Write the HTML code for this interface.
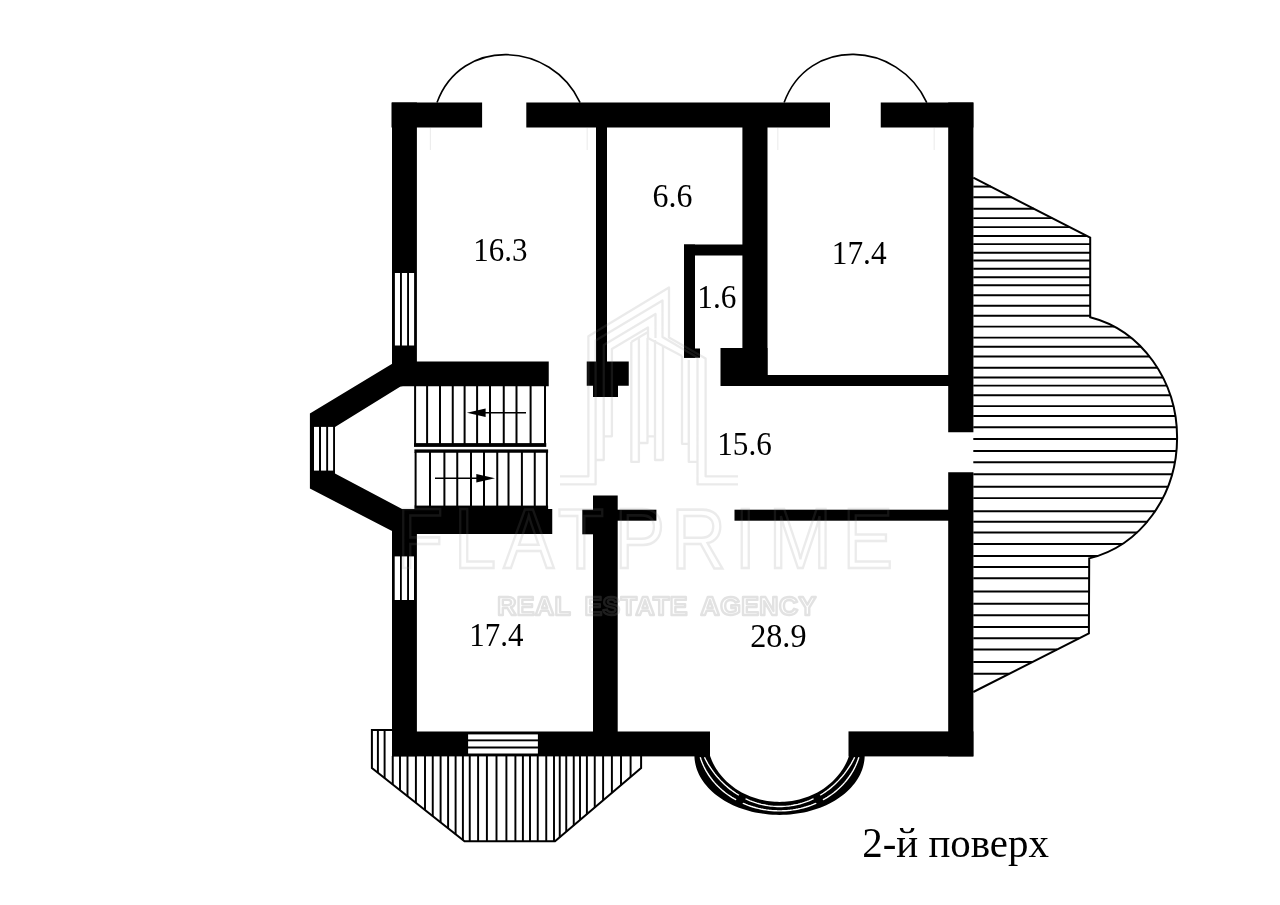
<!DOCTYPE html>
<html lang="uk">
<head>
<meta charset="utf-8">
<title>2-й поверх</title>
<style>
html,body{margin:0;padding:0;background:#fff;overflow:hidden}
svg{display:block;will-change:transform}
</style>
</head>
<body>
<svg width="1280" height="905" viewBox="0 0 1280 905">
<rect width="1280" height="905" fill="#fff"/>
<g id="terrace">
<line x1="973.30" y1="186.60" x2="991.00" y2="186.60" stroke="#000" stroke-width="1.95" stroke-linecap="butt"/>
<line x1="973.30" y1="197.20" x2="1011.62" y2="197.20" stroke="#000" stroke-width="1.95" stroke-linecap="butt"/>
<line x1="973.30" y1="208.70" x2="1033.98" y2="208.70" stroke="#000" stroke-width="1.95" stroke-linecap="butt"/>
<line x1="973.30" y1="218.10" x2="1052.27" y2="218.10" stroke="#000" stroke-width="1.95" stroke-linecap="butt"/>
<line x1="973.30" y1="227.10" x2="1069.77" y2="227.10" stroke="#000" stroke-width="1.95" stroke-linecap="butt"/>
<line x1="973.30" y1="235.90" x2="1086.89" y2="235.90" stroke="#000" stroke-width="1.95" stroke-linecap="butt"/>
<line x1="973.30" y1="244.10" x2="1090.00" y2="244.10" stroke="#000" stroke-width="1.95" stroke-linecap="butt"/>
<line x1="973.30" y1="252.70" x2="1090.00" y2="252.70" stroke="#000" stroke-width="1.95" stroke-linecap="butt"/>
<line x1="973.30" y1="260.40" x2="1090.00" y2="260.40" stroke="#000" stroke-width="1.95" stroke-linecap="butt"/>
<line x1="973.30" y1="268.70" x2="1090.00" y2="268.70" stroke="#000" stroke-width="1.95" stroke-linecap="butt"/>
<line x1="973.30" y1="277.20" x2="1090.00" y2="277.20" stroke="#000" stroke-width="1.95" stroke-linecap="butt"/>
<line x1="973.30" y1="285.30" x2="1090.00" y2="285.30" stroke="#000" stroke-width="1.95" stroke-linecap="butt"/>
<line x1="973.30" y1="295.30" x2="1090.00" y2="295.30" stroke="#000" stroke-width="1.95" stroke-linecap="butt"/>
<line x1="973.30" y1="305.80" x2="1090.00" y2="305.80" stroke="#000" stroke-width="1.95" stroke-linecap="butt"/>
<line x1="973.30" y1="315.80" x2="1090.00" y2="315.80" stroke="#000" stroke-width="1.95" stroke-linecap="butt"/>
<line x1="973.30" y1="326.60" x2="1114.20" y2="326.60" stroke="#000" stroke-width="1.95" stroke-linecap="butt"/>
<line x1="973.30" y1="337.60" x2="1130.87" y2="337.60" stroke="#000" stroke-width="1.95" stroke-linecap="butt"/>
<line x1="973.30" y1="346.80" x2="1141.10" y2="346.80" stroke="#000" stroke-width="1.95" stroke-linecap="butt"/>
<line x1="973.30" y1="356.50" x2="1149.67" y2="356.50" stroke="#000" stroke-width="1.95" stroke-linecap="butt"/>
<line x1="973.30" y1="367.80" x2="1157.63" y2="367.80" stroke="#000" stroke-width="1.95" stroke-linecap="butt"/>
<line x1="973.30" y1="377.40" x2="1163.05" y2="377.40" stroke="#000" stroke-width="1.95" stroke-linecap="butt"/>
<line x1="973.30" y1="385.60" x2="1166.86" y2="385.60" stroke="#000" stroke-width="1.95" stroke-linecap="butt"/>
<line x1="973.30" y1="395.25" x2="1170.50" y2="395.25" stroke="#000" stroke-width="1.95" stroke-linecap="butt"/>
<line x1="973.30" y1="406.10" x2="1173.61" y2="406.10" stroke="#000" stroke-width="1.95" stroke-linecap="butt"/>
<line x1="973.30" y1="416.00" x2="1175.60" y2="416.00" stroke="#000" stroke-width="1.95" stroke-linecap="butt"/>
<line x1="973.30" y1="427.25" x2="1176.95" y2="427.25" stroke="#000" stroke-width="1.95" stroke-linecap="butt"/>
<line x1="973.30" y1="439.00" x2="1177.35" y2="439.00" stroke="#000" stroke-width="1.95" stroke-linecap="butt"/>
<line x1="973.30" y1="451.00" x2="1176.72" y2="451.00" stroke="#000" stroke-width="1.95" stroke-linecap="butt"/>
<line x1="973.30" y1="462.25" x2="1175.14" y2="462.25" stroke="#000" stroke-width="1.95" stroke-linecap="butt"/>
<line x1="973.30" y1="474.20" x2="1172.38" y2="474.20" stroke="#000" stroke-width="1.95" stroke-linecap="butt"/>
<line x1="973.30" y1="486.80" x2="1168.17" y2="486.80" stroke="#000" stroke-width="1.95" stroke-linecap="butt"/>
<line x1="973.30" y1="498.10" x2="1163.10" y2="498.10" stroke="#000" stroke-width="1.95" stroke-linecap="butt"/>
<line x1="973.30" y1="511.25" x2="1155.40" y2="511.25" stroke="#000" stroke-width="1.95" stroke-linecap="butt"/>
<line x1="973.30" y1="521.70" x2="1147.55" y2="521.70" stroke="#000" stroke-width="1.95" stroke-linecap="butt"/>
<line x1="973.30" y1="532.50" x2="1137.27" y2="532.50" stroke="#000" stroke-width="1.95" stroke-linecap="butt"/>
<line x1="973.30" y1="544.00" x2="1122.59" y2="544.00" stroke="#000" stroke-width="1.95" stroke-linecap="butt"/>
<line x1="973.30" y1="556.00" x2="1098.10" y2="556.00" stroke="#000" stroke-width="1.95" stroke-linecap="butt"/>
<line x1="973.30" y1="567.00" x2="1089.00" y2="567.00" stroke="#000" stroke-width="1.95" stroke-linecap="butt"/>
<line x1="973.30" y1="578.20" x2="1089.00" y2="578.20" stroke="#000" stroke-width="1.95" stroke-linecap="butt"/>
<line x1="973.30" y1="591.50" x2="1089.00" y2="591.50" stroke="#000" stroke-width="1.95" stroke-linecap="butt"/>
<line x1="973.30" y1="603.75" x2="1089.00" y2="603.75" stroke="#000" stroke-width="1.95" stroke-linecap="butt"/>
<line x1="973.30" y1="615.25" x2="1089.00" y2="615.25" stroke="#000" stroke-width="1.95" stroke-linecap="butt"/>
<line x1="973.30" y1="627.00" x2="1089.00" y2="627.00" stroke="#000" stroke-width="1.95" stroke-linecap="butt"/>
<line x1="973.30" y1="638.25" x2="1079.15" y2="638.25" stroke="#000" stroke-width="1.95" stroke-linecap="butt"/>
<line x1="973.30" y1="649.50" x2="1057.00" y2="649.50" stroke="#000" stroke-width="1.95" stroke-linecap="butt"/>
<line x1="973.30" y1="662.00" x2="1032.38" y2="662.00" stroke="#000" stroke-width="1.95" stroke-linecap="butt"/>
<line x1="973.30" y1="673.75" x2="1009.24" y2="673.75" stroke="#000" stroke-width="1.95" stroke-linecap="butt"/>
<path d="M973.3 177.6 L1090.2 237.6 L1090.2 317.2 A112.4 123.7 0 0 1 1089.2 558.4 L1088.9 633.3 L973.3 692" fill="none" stroke="#000" stroke-width="2" stroke-linejoin="miter"/>
</g>
<g id="balcony">
<line x1="377.90" y1="730.00" x2="377.90" y2="772.84" stroke="#000" stroke-width="1.95" stroke-linecap="butt"/>
<line x1="384.60" y1="730.00" x2="384.60" y2="778.14" stroke="#000" stroke-width="1.95" stroke-linecap="butt"/>
<line x1="392.75" y1="756.00" x2="392.75" y2="784.58" stroke="#000" stroke-width="1.95" stroke-linecap="butt"/>
<line x1="400.00" y1="756.00" x2="400.00" y2="790.31" stroke="#000" stroke-width="1.95" stroke-linecap="butt"/>
<line x1="407.50" y1="756.00" x2="407.50" y2="796.24" stroke="#000" stroke-width="1.95" stroke-linecap="butt"/>
<line x1="415.90" y1="756.00" x2="415.90" y2="802.88" stroke="#000" stroke-width="1.95" stroke-linecap="butt"/>
<line x1="425.00" y1="756.00" x2="425.00" y2="810.08" stroke="#000" stroke-width="1.95" stroke-linecap="butt"/>
<line x1="432.75" y1="756.00" x2="432.75" y2="816.20" stroke="#000" stroke-width="1.95" stroke-linecap="butt"/>
<line x1="440.60" y1="756.00" x2="440.60" y2="822.41" stroke="#000" stroke-width="1.95" stroke-linecap="butt"/>
<line x1="448.10" y1="756.00" x2="448.10" y2="828.34" stroke="#000" stroke-width="1.95" stroke-linecap="butt"/>
<line x1="455.60" y1="756.00" x2="455.60" y2="834.26" stroke="#000" stroke-width="1.95" stroke-linecap="butt"/>
<line x1="462.90" y1="756.00" x2="462.90" y2="840.04" stroke="#000" stroke-width="1.95" stroke-linecap="butt"/>
<line x1="469.75" y1="756.00" x2="469.75" y2="841.30" stroke="#000" stroke-width="1.95" stroke-linecap="butt"/>
<line x1="478.10" y1="756.00" x2="478.10" y2="841.30" stroke="#000" stroke-width="1.95" stroke-linecap="butt"/>
<line x1="486.90" y1="756.00" x2="486.90" y2="841.30" stroke="#000" stroke-width="1.95" stroke-linecap="butt"/>
<line x1="496.50" y1="756.00" x2="496.50" y2="841.30" stroke="#000" stroke-width="1.95" stroke-linecap="butt"/>
<line x1="506.40" y1="756.00" x2="506.40" y2="841.30" stroke="#000" stroke-width="1.95" stroke-linecap="butt"/>
<line x1="515.40" y1="756.00" x2="515.40" y2="841.30" stroke="#000" stroke-width="1.95" stroke-linecap="butt"/>
<line x1="522.90" y1="756.00" x2="522.90" y2="841.30" stroke="#000" stroke-width="1.95" stroke-linecap="butt"/>
<line x1="530.00" y1="756.00" x2="530.00" y2="841.30" stroke="#000" stroke-width="1.95" stroke-linecap="butt"/>
<line x1="537.75" y1="756.00" x2="537.75" y2="841.30" stroke="#000" stroke-width="1.95" stroke-linecap="butt"/>
<line x1="546.25" y1="756.00" x2="546.25" y2="841.30" stroke="#000" stroke-width="1.95" stroke-linecap="butt"/>
<line x1="554.00" y1="756.00" x2="554.00" y2="841.30" stroke="#000" stroke-width="1.95" stroke-linecap="butt"/>
<line x1="559.75" y1="756.00" x2="559.75" y2="837.26" stroke="#000" stroke-width="1.95" stroke-linecap="butt"/>
<line x1="566.25" y1="756.00" x2="566.25" y2="831.74" stroke="#000" stroke-width="1.95" stroke-linecap="butt"/>
<line x1="573.75" y1="756.00" x2="573.75" y2="825.36" stroke="#000" stroke-width="1.95" stroke-linecap="butt"/>
<line x1="580.00" y1="756.00" x2="580.00" y2="820.05" stroke="#000" stroke-width="1.95" stroke-linecap="butt"/>
<line x1="586.90" y1="756.00" x2="586.90" y2="814.18" stroke="#000" stroke-width="1.95" stroke-linecap="butt"/>
<line x1="594.75" y1="756.00" x2="594.75" y2="807.51" stroke="#000" stroke-width="1.95" stroke-linecap="butt"/>
<line x1="603.10" y1="756.00" x2="603.10" y2="800.41" stroke="#000" stroke-width="1.95" stroke-linecap="butt"/>
<line x1="611.90" y1="756.00" x2="611.90" y2="792.93" stroke="#000" stroke-width="1.95" stroke-linecap="butt"/>
<line x1="621.00" y1="756.00" x2="621.00" y2="785.19" stroke="#000" stroke-width="1.95" stroke-linecap="butt"/>
<line x1="630.60" y1="756.00" x2="630.60" y2="777.03" stroke="#000" stroke-width="1.95" stroke-linecap="butt"/>
<path d="M392 730 L371.9 730 L371.9 768.1 L464.5 841.3 L555 841.3 L641.1 768.1 L641.1 756" fill="none" stroke="#000" stroke-width="2"/>
</g>
<line x1="430.40" y1="128.00" x2="430.40" y2="150.00" stroke="#000" stroke-opacity="0.07" stroke-width="1.2" stroke-linecap="butt"/>
<line x1="587.20" y1="128.00" x2="587.20" y2="150.00" stroke="#000" stroke-opacity="0.07" stroke-width="1.2" stroke-linecap="butt"/>
<line x1="777.80" y1="128.00" x2="777.80" y2="150.00" stroke="#000" stroke-opacity="0.07" stroke-width="1.2" stroke-linecap="butt"/>
<line x1="934.20" y1="128.00" x2="934.20" y2="150.00" stroke="#000" stroke-opacity="0.07" stroke-width="1.2" stroke-linecap="butt"/>
<g id="baywin">
<path d="M694.72 750.00 L694.49 752.47 L694.41 754.95 L694.47 757.42 L694.68 759.89 L695.04 762.36 L695.54 764.81 L696.18 767.24 L696.97 769.65 L697.90 772.04 L698.97 774.40 L700.17 776.73 L701.52 779.02 L702.99 781.27 L704.60 783.47 L706.34 785.62 L708.20 787.73 L710.18 789.77 L712.28 791.76 L714.50 793.68 L716.83 795.54 L719.27 797.33 L721.81 799.05 L724.45 800.69 L727.18 802.25 L730.01 803.73 L732.92 805.13 L735.90 806.44 L738.97 807.67 L742.10 808.80 L745.30 809.85 L748.55 810.80 L751.86 811.65 L755.22 812.41 L758.62 813.06 L762.05 813.62 L765.51 814.08 L769.00 814.44 L772.51 814.70 L776.03 814.85 L779.55 814.90 L783.07 814.85 L786.59 814.70 L790.10 814.44 L793.59 814.08 L797.05 813.62 L800.48 813.06 L803.88 812.41 L807.24 811.65 L810.55 810.80 L813.80 809.85 L817.00 808.80 L820.13 807.67 L823.20 806.44 L826.18 805.13 L829.09 803.73 L831.92 802.25 L834.65 800.69 L837.29 799.05 L839.83 797.33 L842.27 795.54 L844.60 793.68 L846.82 791.76 L848.92 789.77 L850.90 787.73 L852.76 785.62 L854.50 783.47 L856.11 781.27 L857.58 779.02 L858.93 776.73 L860.13 774.40 L861.20 772.04 L862.13 769.65 L862.92 767.24 L863.56 764.81 L864.06 762.36 L864.42 759.89 L864.63 757.42 L864.69 754.95 L864.61 752.47 L864.38 750.00 L850.69 750.00 L850.15 752.17 L849.53 754.32 L848.83 756.44 L848.04 758.55 L847.18 760.63 L846.24 762.69 L845.22 764.71 L844.12 766.70 L842.95 768.66 L841.70 770.58 L840.38 772.46 L838.98 774.29 L837.52 776.09 L835.99 777.84 L834.39 779.54 L832.73 781.19 L831.01 782.79 L829.23 784.34 L827.38 785.83 L825.48 787.26 L823.53 788.63 L821.53 789.95 L819.48 791.20 L817.38 792.39 L815.23 793.51 L813.05 794.57 L810.82 795.56 L808.56 796.48 L806.26 797.33 L803.93 798.12 L801.58 798.83 L799.20 799.46 L796.79 800.03 L794.37 800.52 L791.92 800.93 L789.47 801.27 L787.00 801.54 L784.52 801.73 L782.04 801.84 L779.55 801.88 L777.06 801.84 L774.58 801.73 L772.10 801.54 L769.63 801.27 L767.18 800.93 L764.73 800.52 L762.31 800.03 L759.90 799.46 L757.52 798.83 L755.17 798.12 L752.84 797.33 L750.54 796.48 L748.28 795.56 L746.05 794.57 L743.87 793.51 L741.72 792.39 L739.62 791.20 L737.57 789.95 L735.57 788.63 L733.62 787.26 L731.72 785.83 L729.87 784.34 L728.09 782.79 L726.37 781.19 L724.71 779.54 L723.11 777.84 L721.58 776.09 L720.12 774.29 L718.72 772.46 L717.40 770.58 L716.15 768.66 L714.98 766.70 L713.88 764.71 L712.86 762.69 L711.92 760.63 L711.06 758.55 L710.27 756.44 L709.57 754.32 L708.95 752.17 L708.41 750.00Z" fill="#000"/>
<path d="M700.22 757.30 L700.97 759.58 L701.80 761.83 L702.72 764.06 L703.72 766.26 L704.80 768.43 L705.95 770.57 L707.19 772.68 L708.50 774.74 L709.89 776.77 L711.36 778.76 L712.89 780.70 L714.50 782.60 L716.17 784.46 L717.91 786.26 L719.72 788.01 L721.59 789.71 L723.52 791.35 L725.51 792.94 L727.56 794.47 L729.67 795.94 L731.82 797.34 L734.03 798.69 L736.29 799.97 L738.59 801.18 L740.93 802.33 L743.32 803.41 L745.75 804.42 L748.21 805.36 L750.70 806.23 L753.22 807.02 L755.78 807.74 L758.35 808.39 L760.95 808.97 L763.57 809.46 L766.21 809.89 L768.86 810.23 L771.52 810.50 L774.19 810.70 L776.87 810.81 L779.55 810.85 L782.23 810.81 L784.91 810.70 L787.58 810.50 L790.24 810.23 L792.89 809.89 L795.53 809.46 L798.15 808.97 L800.75 808.39 L803.32 807.74 L805.88 807.02 L808.40 806.23 L810.89 805.36 L813.35 804.42 L815.78 803.41 L818.17 802.33 L820.51 801.18 L822.81 799.97 L825.07 798.69 L827.28 797.34 L829.43 795.94 L831.54 794.47 L833.59 792.94 L835.58 791.35 L837.51 789.71 L839.38 788.01 L841.19 786.26 L842.93 784.46 L844.60 782.60 L846.21 780.70 L847.74 778.76 L849.21 776.77 L850.60 774.74 L851.91 772.68 L853.15 770.57 L854.30 768.43 L855.38 766.26 L856.38 764.06 L857.30 761.83 L858.13 759.58 L858.88 757.30" fill="none" stroke="#fff" stroke-width="1.4"/>
<path d="M704.47 757.30 L705.58 759.50 L706.74 761.66 L707.95 763.79 L709.22 765.89 L710.54 767.94 L711.91 769.95 L713.33 771.93 L714.80 773.86 L716.32 775.75 L717.88 777.59 L719.49 779.38 L721.14 781.13 L722.83 782.83 L724.56 784.48 L726.34 786.07 L728.15 787.61 L730.00 789.10 L731.89 790.54 L733.81 791.91 L735.77 793.23 L737.76 794.50 L739.77 795.70 L741.82 796.84 L743.89 797.92 L746.00 798.94 L748.12 799.90 L750.27 800.80 L752.44 801.63 L754.63 802.40 L756.83 803.10 L759.06 803.74 L761.30 804.31 L763.55 804.81 L765.81 805.25 L768.09 805.62 L770.37 805.93 L772.66 806.17 L774.95 806.33 L777.25 806.44 L779.55 806.47 L781.85 806.44 L784.15 806.33 L786.44 806.17 L788.73 805.93 L791.01 805.62 L793.29 805.25 L795.55 804.81 L797.80 804.31 L800.04 803.74 L802.27 803.10 L804.47 802.40 L806.66 801.63 L808.83 800.80 L810.98 799.90 L813.10 798.94 L815.21 797.92 L817.28 796.84 L819.33 795.70 L821.34 794.50 L823.33 793.23 L825.29 791.91 L827.21 790.54 L829.10 789.10 L830.95 787.61 L832.76 786.07 L834.54 784.48 L836.27 782.83 L837.96 781.13 L839.61 779.38 L841.22 777.59 L842.78 775.75 L844.30 773.86 L845.77 771.93 L847.19 769.95 L848.56 767.94 L849.88 765.89 L851.15 763.79 L852.36 761.66 L853.52 759.50 L854.63 757.30" fill="none" stroke="#fff" stroke-width="1.4"/>
<line x1="816.15" y1="795.80" x2="821.34" y2="804.35" stroke="#000" stroke-width="7.5" stroke-linecap="butt"/>
<line x1="742.95" y1="795.80" x2="737.76" y2="804.35" stroke="#000" stroke-width="7.5" stroke-linecap="butt"/>
</g>
<g id="walls">
<rect x="391.50" y="102.50" width="90.60" height="25.00" fill="#000"/>
<rect x="526.30" y="102.50" width="303.70" height="25.00" fill="#000"/>
<rect x="880.75" y="102.50" width="92.65" height="25.00" fill="#000"/>
<rect x="392.00" y="102.50" width="24.90" height="283.50" fill="#000"/>
<rect x="392.00" y="361.50" width="156.75" height="24.75" fill="#000"/>
<rect x="948.20" y="102.50" width="25.20" height="329.75" fill="#000"/>
<rect x="948.20" y="472.25" width="25.20" height="284.15" fill="#000"/>
<rect x="848.50" y="731.40" width="124.90" height="25.00" fill="#000"/>
<rect x="392.00" y="731.50" width="318.00" height="24.90" fill="#000"/>
<rect x="392.00" y="509.00" width="24.90" height="247.30" fill="#000"/>
<rect x="402.00" y="509.00" width="150.25" height="25.00" fill="#000"/>
<rect x="414.40" y="505.60" width="133.70" height="4.40" fill="#000"/>
<rect x="596.00" y="127.00" width="11.00" height="235.00" fill="#000"/>
<rect x="586.75" y="361.50" width="42.00" height="24.25" fill="#000"/>
<rect x="593.00" y="385.00" width="25.00" height="12.00" fill="#000"/>
<rect x="742.40" y="127.00" width="25.10" height="259.00" fill="#000"/>
<rect x="720.50" y="348.00" width="47.00" height="38.00" fill="#000"/>
<rect x="684.00" y="244.50" width="59.00" height="11.00" fill="#000"/>
<rect x="684.00" y="244.50" width="11.00" height="113.25" fill="#000"/>
<rect x="684.00" y="348.50" width="16.00" height="9.25" fill="#000"/>
<rect x="767.00" y="375.00" width="182.00" height="11.00" fill="#000"/>
<rect x="593.00" y="495.50" width="24.70" height="236.50" fill="#000"/>
<rect x="582.30" y="509.70" width="11.70" height="24.60" fill="#000"/>
<rect x="617.00" y="509.70" width="39.40" height="11.00" fill="#000"/>
<rect x="734.50" y="509.70" width="214.50" height="11.00" fill="#000"/>
<polygon points="392.20,363.70 309.90,413.50 309.90,488.50 391.50,530.80 403.00,530.80 403.00,509.60 335.00,473.50 335.00,426.90 400.50,386.60 403.00,386.00 403.00,363.70" fill="#000" stroke="none" stroke-width="0"/>
</g>
<g id="windows" fill="#fff">
<rect x="394.90" y="273.00" width="5.10" height="72.50" fill="#fff"/>
<rect x="401.90" y="273.00" width="5.20" height="72.50" fill="#fff"/>
<rect x="409.00" y="273.00" width="5.10" height="72.50" fill="#fff"/>
<rect x="394.70" y="556.40" width="5.30" height="43.60" fill="#fff"/>
<rect x="401.80" y="556.40" width="5.30" height="43.60" fill="#fff"/>
<rect x="409.00" y="556.40" width="5.00" height="43.60" fill="#fff"/>
<rect x="314.00" y="426.90" width="5.00" height="43.70" fill="#fff"/>
<rect x="321.00" y="426.90" width="5.20" height="43.70" fill="#fff"/>
<rect x="328.10" y="426.90" width="5.00" height="43.70" fill="#fff"/>
<rect x="468.10" y="734.40" width="69.80" height="5.00" fill="#fff"/>
<rect x="468.10" y="741.30" width="69.80" height="5.20" fill="#fff"/>
<rect x="468.10" y="748.50" width="69.80" height="5.00" fill="#fff"/>
</g>
<g id="stairs">
<line x1="415.10" y1="386.00" x2="415.10" y2="444.00" stroke="#000" stroke-width="2" stroke-linecap="butt"/>
<line x1="427.10" y1="386.00" x2="427.10" y2="444.00" stroke="#000" stroke-width="2" stroke-linecap="butt"/>
<line x1="440.00" y1="386.00" x2="440.00" y2="444.00" stroke="#000" stroke-width="2" stroke-linecap="butt"/>
<line x1="452.75" y1="386.00" x2="452.75" y2="444.00" stroke="#000" stroke-width="2" stroke-linecap="butt"/>
<line x1="464.60" y1="386.00" x2="464.60" y2="444.00" stroke="#000" stroke-width="2" stroke-linecap="butt"/>
<line x1="477.10" y1="386.00" x2="477.10" y2="444.00" stroke="#000" stroke-width="2" stroke-linecap="butt"/>
<line x1="490.00" y1="386.00" x2="490.00" y2="444.00" stroke="#000" stroke-width="2" stroke-linecap="butt"/>
<line x1="503.75" y1="386.00" x2="503.75" y2="444.00" stroke="#000" stroke-width="2" stroke-linecap="butt"/>
<line x1="516.50" y1="386.00" x2="516.50" y2="444.00" stroke="#000" stroke-width="2" stroke-linecap="butt"/>
<line x1="530.60" y1="386.00" x2="530.60" y2="444.00" stroke="#000" stroke-width="2" stroke-linecap="butt"/>
<line x1="545.00" y1="386.00" x2="545.00" y2="444.00" stroke="#000" stroke-width="2" stroke-linecap="butt"/>
<rect x="414.00" y="443.10" width="132.25" height="3.80" fill="#000"/>
<rect x="414.40" y="449.40" width="133.70" height="3.35" fill="#000"/>
<line x1="415.60" y1="452.00" x2="415.60" y2="506.00" stroke="#000" stroke-width="2" stroke-linecap="butt"/>
<line x1="430.00" y1="452.00" x2="430.00" y2="506.00" stroke="#000" stroke-width="2" stroke-linecap="butt"/>
<line x1="444.40" y1="452.00" x2="444.40" y2="506.00" stroke="#000" stroke-width="2" stroke-linecap="butt"/>
<line x1="457.25" y1="452.00" x2="457.25" y2="506.00" stroke="#000" stroke-width="2" stroke-linecap="butt"/>
<line x1="471.00" y1="452.00" x2="471.00" y2="506.00" stroke="#000" stroke-width="2" stroke-linecap="butt"/>
<line x1="484.00" y1="452.00" x2="484.00" y2="506.00" stroke="#000" stroke-width="2" stroke-linecap="butt"/>
<line x1="497.25" y1="452.00" x2="497.25" y2="506.00" stroke="#000" stroke-width="2" stroke-linecap="butt"/>
<line x1="508.50" y1="452.00" x2="508.50" y2="506.00" stroke="#000" stroke-width="2" stroke-linecap="butt"/>
<line x1="521.90" y1="452.00" x2="521.90" y2="506.00" stroke="#000" stroke-width="2" stroke-linecap="butt"/>
<line x1="534.75" y1="452.00" x2="534.75" y2="506.00" stroke="#000" stroke-width="2" stroke-linecap="butt"/>
<line x1="546.90" y1="452.00" x2="546.90" y2="506.00" stroke="#000" stroke-width="2" stroke-linecap="butt"/>
<line x1="480.00" y1="412.75" x2="526.00" y2="412.75" stroke="#000" stroke-width="1.5" stroke-linecap="butt"/>
<polygon points="466.90,412.75 485.60,408.60 485.60,416.90" fill="#000" stroke="none" stroke-width="0"/>
<line x1="435.00" y1="478.25" x2="480.00" y2="478.25" stroke="#000" stroke-width="1.5" stroke-linecap="butt"/>
<polygon points="495.00,478.25 476.30,474.10 476.30,482.40" fill="#000" stroke="none" stroke-width="0"/>
</g>
<path d="M437 102.6 C461.1 36.55 551.45 40.8 580.1 102.6" fill="none" stroke="#000" stroke-width="1.6" />
<path d="M784.1 102.6 C808.2 36.2 898.3 40.5 926.8 102.6" fill="none" stroke="#000" stroke-width="1.6" />
<g id="labels" font-family="'Liberation Serif', serif" fill="#000">
<text transform="translate(473.19 260.90) scale(0.9040 1)" font-size="34.3">16.3</text>
<text transform="translate(652.50 206.60) scale(0.9309 1)" font-size="34.3">6.6</text>
<text transform="translate(831.76 264.20) scale(0.9133 1)" font-size="34.3">17.4</text>
<text transform="translate(697.26 308.20) scale(0.9128 1)" font-size="34.3">1.6</text>
<text transform="translate(717.27 454.70) scale(0.9089 1)" font-size="34.3">15.6</text>
<text transform="translate(469.29 646.20) scale(0.9027 1)" font-size="34.3">17.4</text>
<text transform="translate(750.19 646.90) scale(0.9380 1)" font-size="34.3">28.9</text>
<text transform="translate(862.19 856.60) scale(0.9793 1)" font-size="41.8">2-й поверх</text>
</g>
<g id="watermark" fill="none" stroke="#808080" stroke-opacity="0.16" font-family="'Liberation Sans', sans-serif">
<text transform="translate(0 568.3) scale(0.88 0.985)" x="451.0 515.8 572.2 633.7 698.4 762.9 835.0 873.7 957.3" y="0" font-size="86" stroke-width="2.6">FLATPRIME</text>
<text x="497.2" y="615.2" font-size="26.5" font-weight="bold" word-spacing="6" letter-spacing="0.45" stroke-width="2.4" stroke-opacity="0.23" stroke-linejoin="round">REAL ESTATE AGENCY</text>
<path d="M560 476.3H588.4V336.3L669 287.5V337.5L705.6 358.5V476.3H738M560 484.4H595.6V340.5L662.5 300.5V337L697.5 357.5V484.4H738M595.6 460H603.75V345L655.5 314V338M603.75 436.3H611.9V349L648 327.5V338M631.3 342V461.9H638.9V338M638.9 443H647.5V338M647.5 436.3H655V340M655 345V460H663V346M682 356V443.8H688.8M688.8 360V461.9H697.2M631.3 342L648 332M663 346L648 338M682 356L663 346" stroke-width="2.3" stroke-opacity="0.17" stroke-linejoin="round"/>
</g>
</svg>
</body>
</html>
